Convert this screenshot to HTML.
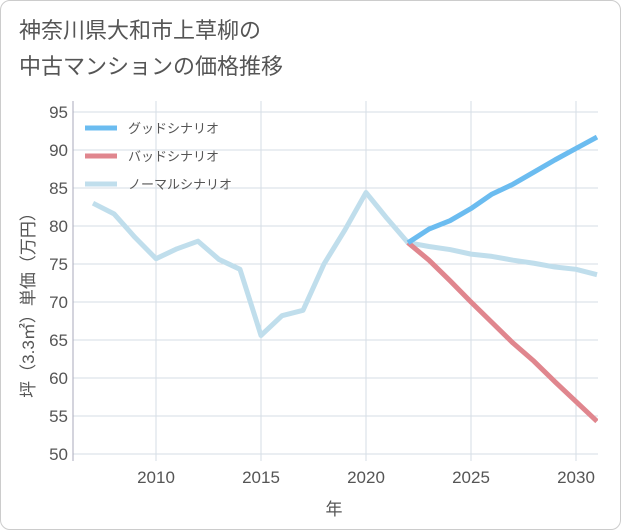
<!DOCTYPE html>
<html><head><meta charset="utf-8"><style>
body{margin:0;background:#fff;}
#wrap{position:relative;width:619px;height:528px;border:1px solid #ccc;border-radius:10px;background:#fff;overflow:hidden;}
#title{position:absolute;left:18px;top:12px;font:22px "Liberation Sans","Noto Sans CJK JP",sans-serif;color:#555;line-height:36px;}
svg{position:absolute;left:0;top:0;}
text{font-family:"Liberation Sans","Noto Sans CJK JP",sans-serif;}
</style></head><body>
<div id="wrap">
<div id="title">神奈川県大和市上草柳の<br>中古マンションの価格推移</div>
<svg id="chart" width="621" height="530"></svg>
</div>
<script>
const normalYears=[2007,2008,2009,2010,2011,2012,2013,2014,2015,2016,2017,2018,2019,2020,2021,2022,2023,2024,2025,2026,2027,2028,2029,2030,2031];
const normalValues=[83,81.6,78.5,75.7,77,78,75.6,74.3,65.6,68.2,68.9,75,79.5,84.4,81,77.8,77.3,76.9,76.3,76,75.5,75.1,74.6,74.3,73.6];
const futureYears=[2022,2023,2024,2025,2026,2027,2028,2029,2030,2031];
const goodValues=[77.8,79.6,80.7,82.3,84.2,85.5,87.1,88.7,90.2,91.7];
const badValues=[77.8,75.5,72.8,70,67.3,64.6,62.2,59.5,56.9,54.3];
const yTicks=[50,55,60,65,70,75,80,85,90,95];
const xTicks=[2010,2015,2020,2025,2030];
const NS="http://www.w3.org/2000/svg";
const svg=document.getElementById('chart');
const L=72,R=597,T=100,B=460;
const x=v=>155+(v-2010)*21;
const y=v=>453-(v-50)*(342/45);
function mk(t,a,p){const e=document.createElementNS(NS,t);for(const k in a)e.setAttribute(k,a[k]);(p||svg).appendChild(e);return e;}
const bg=mk('rect',{x:L,y:T,width:R-L,height:B-T,fill:'#fff'});


yTicks.forEach(v=>{
 const g=mk('line',{x1:L,x2:R,y1:y(v),y2:y(v),stroke:'#d5dde5','stroke-width':1});
 
 
 const t=mk('text',{x:67,y:y(v)+6,'text-anchor':'end','font-size':17,fill:'#555'});
 t.textContent=v;
 
 
});
xTicks.forEach(v=>{
 const g=mk('line',{x1:x(v),x2:x(v),y1:T,y2:B,stroke:'#d5dde5','stroke-width':1});
 
 
 const t=mk('text',{x:x(v),y:482,'text-anchor':'middle','font-size':17,fill:'#555'});
 t.textContent=v;
 
 
});
const ax=mk('line',{x1:L,x2:L,y1:T,y2:B,stroke:'#aab','stroke-width':1});


const xt=mk('text',{x:333,y:514,'text-anchor':'middle','font-size':17,fill:'#555'});
xt.textContent='年';


const yt=mk('text',{x:0,y:0,'text-anchor':'middle','font-size':17,fill:'#555',transform:'translate(33,300) rotate(-90)'});
yt.textContent='坪（3.3㎡）単価（万円）';


const clip=mk('clipPath',{id:'c'});mk('rect',{x:L,y:T,width:R-L,height:B-T},clip);
function line(xs,vs,col,name){
 const p=mk('polyline',{points:xs.map((v,i)=>x(v)+','+y(vs[i])).join(' '),fill:'none',stroke:col,'stroke-width':5,'stroke-linejoin':'round','clip-path':'url(#c)'});
 
 
}
line(normalYears,normalValues,'#c0deec','normal-scenario-line');
line(futureYears,badValues,'#e0868e','bad-scenario-line');
line(futureYears,goodValues,'#6bbcf0','good-scenario-line');
[['グッドシナリオ','#6bbcf0',127],['バッドシナリオ','#e0868e',155],['ノーマルシナリオ','#c0deec',183]].forEach(([lab,col,yy])=>{
 const l=mk('line',{x1:84,x2:116,y1:yy,y2:yy,stroke:col,'stroke-width':5});
 
 
 const t=mk('text',{x:127,y:yy+5,'font-size':13,fill:'#555'});
 t.textContent=lab;
 
 
});
</script>
</body></html>
